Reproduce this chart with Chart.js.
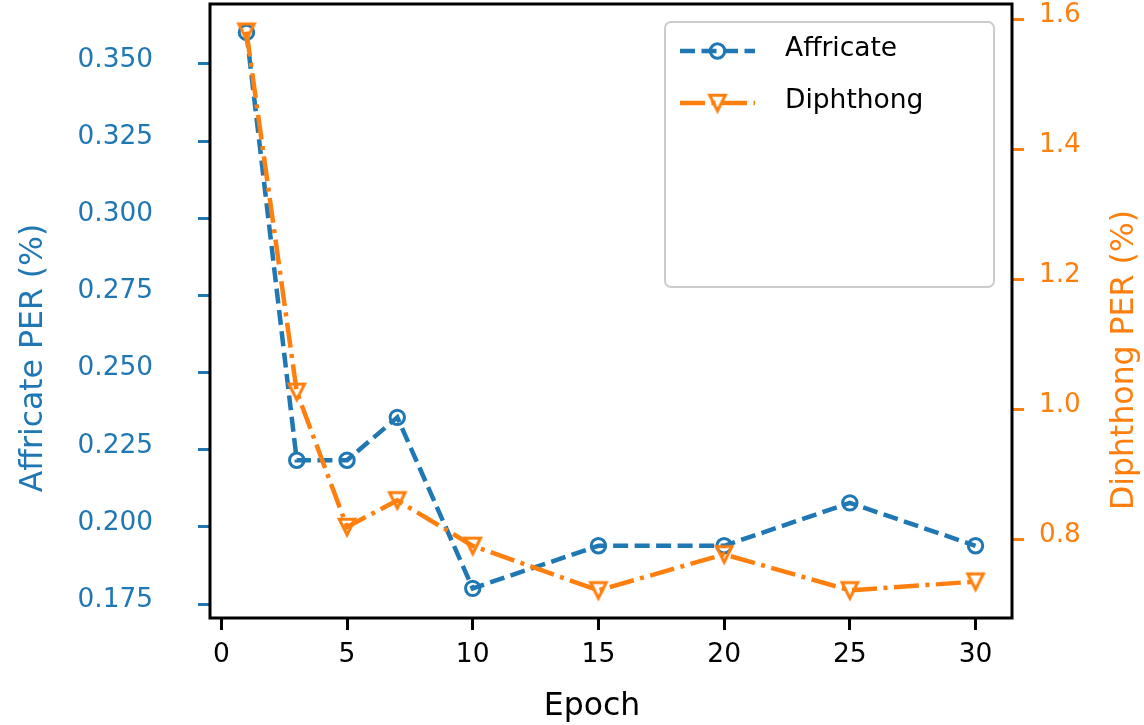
<!DOCTYPE html>
<html>
<head>
<title>Affricate / Diphthong PER by Epoch</title>
<script src="https://cdn.jsdelivr.net/npm/chart.js"></script>
<style>body{margin:0;background:#fff}</style>
</head>
<body>
<canvas id="perChart" width="1144" height="725"></canvas>
<script>
// data
const epochs = [1, 3, 5, 7, 10, 15, 20, 25, 30];
const affricatePer = [0.3602, 0.2216, 0.2216, 0.2355, 0.1801, 0.1939, 0.1939, 0.2078, 0.1939];
const diphthongPer = [1.581, 1.027, 0.819, 0.860, 0.790, 0.7215, 0.777, 0.7215, 0.735];
const epochTicks = [0, 5, 10, 15, 20, 25, 30];
const affricateTicks = [0.175, 0.200, 0.225, 0.250, 0.275, 0.300, 0.325, 0.350];
const diphthongTicks = [0.8, 1.0, 1.2, 1.4, 1.6];

const BLUE = '#1f77b4', ORANGE = '#ff7f0e';
const FONT = 'DejaVu Sans';

// open down-pointing triangle marker (matplotlib 'v')
function triangleMarker() {
    const c = document.createElement('canvas');
    c.width = 28; c.height = 28;
    const g = c.getContext('2d');
    const m = 14, h = 7.8;
    g.strokeStyle = ORANGE;
    g.lineWidth = 3;
    g.beginPath();
    g.moveTo(m - h, m - h);
    g.lineTo(m + h, m - h);
    g.lineTo(m, m + h);
    g.closePath();
    g.stroke();
    return c;
}
const triImg = triangleMarker();

const points = arr => arr.map((v, i) => ({x: epochs[i], y: v}));
const fixTicks = arr => scale => { scale.ticks = arr.map(v => ({value: v})); };

// frame, axis titles and legend box
const decorations = {
    id: 'decorations',
    afterDatasetsDraw(chart) {
        const {ctx, chartArea: a} = chart;
        ctx.save();
        ctx.strokeStyle = '#000';
        ctx.lineWidth = 3;
        ctx.strokeRect(a.left, a.top, a.right - a.left, a.bottom - a.top);

        ctx.font = '31.5px "' + FONT + '"';
        ctx.textAlign = 'center';
        ctx.textBaseline = 'alphabetic';
        ctx.fillStyle = '#000';
        ctx.fillText('Epoch', 592, 715);

        ctx.save();
        ctx.translate(42, 358);
        ctx.rotate(-Math.PI / 2);
        ctx.fillStyle = BLUE;
        ctx.fillText('Affricate PER (%)', 0, 0);
        ctx.restore();

        ctx.save();
        ctx.translate(1133, 360);
        ctx.rotate(-Math.PI / 2);
        ctx.fillStyle = ORANGE;
        ctx.fillText('Diphthong PER (%)', 0, 0);
        ctx.restore();

        // legend
        const bx = 665, by = 22, bw = 329, bh = 265;
        ctx.beginPath();
        ctx.roundRect(bx, by, bw, bh, 6);
        ctx.fillStyle = 'rgba(255,255,255,0.8)';
        ctx.fill();
        ctx.strokeStyle = '#cccccc';
        ctx.lineWidth = 2;
        ctx.stroke();

        const rows = [51, 103];
        chart.data.datasets.forEach((ds, i) => {
            const y = rows[i];
            ctx.strokeStyle = ds.borderColor;
            ctx.lineWidth = ds.borderWidth;
            ctx.setLineDash(ds.borderDash);
            ctx.beginPath();
            ctx.moveTo(680, y);
            ctx.lineTo(755, y);
            ctx.stroke();
            ctx.setLineDash([]);
            if (ds.pointStyle === 'circle') {
                ctx.lineWidth = ds.pointBorderWidth;
                ctx.beginPath();
                ctx.arc(717.5, y, ds.pointRadius, 0, Math.PI * 2);
                ctx.stroke();
            } else {
                ctx.drawImage(ds.pointStyle, 717.5 - 14, y - 14);
            }
            ctx.fillStyle = '#000';
            ctx.font = '26.5px "' + FONT + '"';
            ctx.textAlign = 'left';
            ctx.fillText(ds.label, 785, y + 4.5);
        });
        ctx.restore();
    }
};

new Chart(document.getElementById('perChart'), {
    type: 'line',
    data: {
        datasets: [{
            label: 'Affricate',
            data: points(affricatePer),
            yAxisID: 'yA',
            order: 1,
            borderColor: BLUE,
            borderWidth: 4.5,
            borderDash: [15, 6.5],
            pointStyle: 'circle',
            pointRadius: 7.2,
            pointBorderWidth: 3,
            pointBorderColor: BLUE,
            pointBackgroundColor: 'transparent',
            fill: false
        }, {
            label: 'Diphthong',
            data: points(diphthongPer),
            yAxisID: 'yD',
            order: 0,
            borderColor: ORANGE,
            borderWidth: 4.5,
            borderDash: [25, 6.5, 4, 6.5],
            pointStyle: triImg,
            pointRadius: 8,
            fill: false
        }]
    },
    options: {
        responsive: false,
        animation: false,
        events: [],
        layout: {autoPadding: false, padding: {top: 4, left: 0, right: 0, bottom: 0}},
        plugins: {legend: {display: false}, tooltip: {enabled: false}},
        scales: {
            x: {
                type: 'linear',
                min: -0.45,
                max: 31.45,
                afterBuildTicks: fixTicks(epochTicks),
                ticks: {color: '#000', font: {family: FONT, size: 26.5}, padding: 9, maxRotation: 0, autoSkip: false},
                grid: {drawOnChartArea: false, tickLength: 12, color: '#000', lineWidth: 3, tickColor: '#000', tickWidth: 3},
                border: {display: false},
                afterFit(s) { s.height = 107; s.paddingLeft = 0; s.paddingRight = 0; }
            },
            yA: {
                type: 'linear',
                position: 'left',
                min: 0.1705,
                max: 0.3694,
                afterBuildTicks: fixTicks(affricateTicks),
                ticks: {color: BLUE, font: {family: FONT, size: 26.4}, padding: 45, labelOffset: -4, callback: v => v.toFixed(3)},
                grid: {drawOnChartArea: false, tickLength: 12, color: BLUE, lineWidth: 3, tickColor: BLUE, tickWidth: 3},
                border: {display: false},
                afterFit(s) { s.width = 210; s.paddingTop = 0; s.paddingBottom = 0; }
            },
            yD: {
                type: 'linear',
                position: 'right',
                min: 0.679,
                max: 1.6235,
                afterBuildTicks: fixTicks(diphthongTicks),
                ticks: {color: ORANGE, font: {family: FONT, size: 26.3}, padding: 15, labelOffset: -4, callback: v => v.toFixed(1)},
                grid: {drawOnChartArea: false, tickLength: 12, color: ORANGE, lineWidth: 3, tickColor: ORANGE, tickWidth: 3},
                border: {display: false},
                afterFit(s) { s.width = 132; s.paddingTop = 0; s.paddingBottom = 0; }
            }
        }
    },
    plugins: [decorations]
});
</script>
</body>
</html>
